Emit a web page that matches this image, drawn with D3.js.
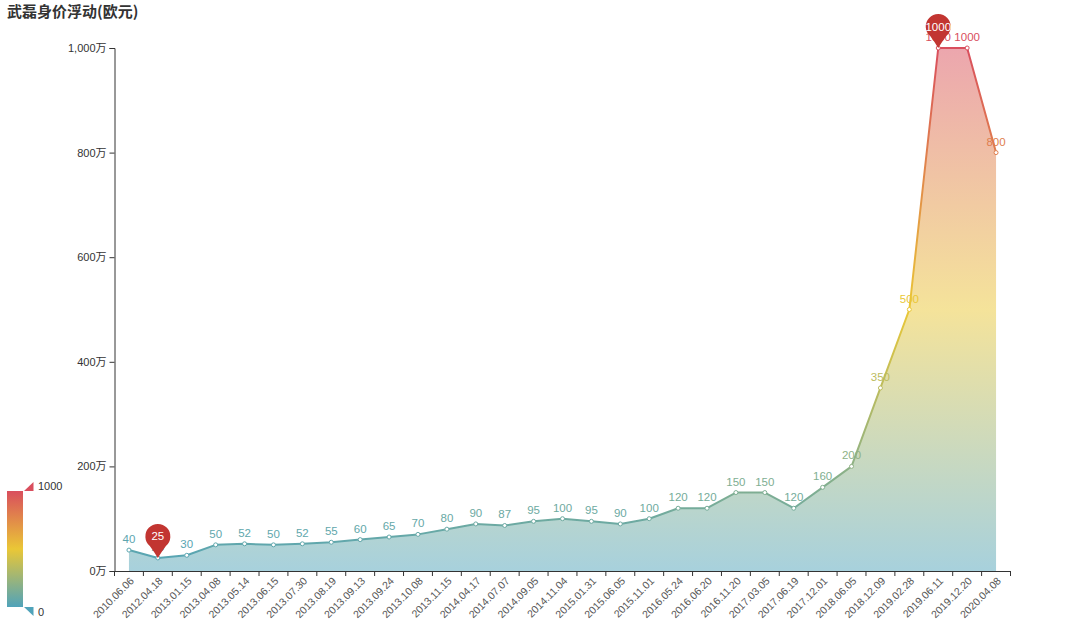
<!DOCTYPE html>
<html>
<head>
<meta charset="utf-8">
<script src="https://cdn.jsdelivr.net/npm/d3@7/dist/d3.min.js"></script>
<style>
html,body{margin:0;padding:0;background:#fff;}
svg{display:block;font-family:"Liberation Sans","Noto Sans CJK SC",sans-serif;}
</style>
</head>
<body>
<svg id="chart" width="1080" height="624"></svg>
<script>
const categories = ["2010.06.06","2012.04.18","2013.01.15","2013.04.08","2013.05.14","2013.06.15","2013.07.30","2013.08.19","2013.09.13","2013.09.24","2013.10.08","2013.11.15","2014.04.17","2014.07.07","2014.09.05","2014.11.04","2015.01.31","2015.06.05","2015.11.01","2016.05.24","2016.06.20","2016.11.20","2017.03.05","2017.06.19","2017.12.01","2018.06.05","2018.12.09","2019.02.28","2019.06.11","2019.12.20","2020.04.08"];
const values = [40,25,30,50,52,50,52,55,60,65,70,80,90,87,95,100,95,90,100,120,120,150,150,120,160,200,350,500,1000,1000,800];
const yTicks = [0,200,400,600,800,1000];
const mapColors = ["#50a3ba","#eac736","#d94e5d"];
const mapRange = [0,1000];
const title = "武磊身价浮动(欧元)";

(function(){
const svg = d3.select("#chart");
const gLeft = 114.5, gRight = 1010.5, gTop = 48, gBottom = 571;

const x = d3.scaleBand().domain(categories).range([gLeft, gRight]).padding(0);
const y = d3.scaleLinear().domain([0,1000]).range([gBottom, gTop]);
const color = d3.scaleLinear().domain([mapRange[0], (mapRange[0]+mapRange[1])/2, mapRange[1]]).range(mapColors).interpolate(d3.interpolateRgb);
const cx = c => x(c) + x.bandwidth()/2;

const defs = svg.append("defs");
const grad = defs.append("linearGradient").attr("id","vgrad")
  .attr("gradientUnits","userSpaceOnUse").attr("x1",0).attr("x2",0)
  .attr("y1", y(mapRange[0])).attr("y2", y(mapRange[1]));
grad.selectAll("stop").data(mapColors).join("stop")
  .attr("offset",(d,i)=>i/(mapColors.length-1)).attr("stop-color",d=>d);
const grad2 = defs.append("linearGradient").attr("id","vmgrad")
  .attr("x1",0).attr("x2",0).attr("y1",1).attr("y2",0);
grad2.selectAll("stop").data(mapColors).join("stop")
  .attr("offset",(d,i)=>i/(mapColors.length-1)).attr("stop-color",d=>d);

// title
svg.append("text").attr("x",7).attr("y",17).attr("font-size",15).attr("font-weight","bold")
  .attr("fill","#333").attr("font-family","'Noto Sans CJK SC',sans-serif").text(title);

const data = categories.map((c,i)=>({c, v:values[i]}));

// area
svg.append("path").datum(data)
  .attr("d", d3.area().x(d=>cx(d.c)).y0(y(0)).y1(d=>y(d.v)))
  .attr("fill","url(#vgrad)").attr("fill-opacity",0.5);
// line
svg.append("path").datum(data)
  .attr("d", d3.line().x(d=>cx(d.c)).y(d=>y(d.v)))
  .attr("fill","none").attr("stroke","url(#vgrad)").attr("stroke-width",2).attr("stroke-linejoin","round");

// axes
const yAxis = d3.axisLeft(y).tickValues(yTicks).tickSize(5).tickPadding(3)
  .tickFormat(v => d3.format(",")(v) + "万");
const gy = svg.append("g").attr("transform",`translate(${gLeft},0)`).call(yAxis);
gy.select(".domain").attr("stroke","#333");
gy.selectAll(".tick line").attr("stroke","#333");
gy.selectAll(".tick text").attr("fill","#333").attr("font-size",11)
  .attr("font-family","'Liberation Sans','Noto Sans CJK SC',sans-serif");

const xAxis = d3.axisBottom(x).tickSize(0).tickPadding(0);
const gx = svg.append("g").attr("transform",`translate(0,${gBottom})`).call(xAxis);
gx.select(".domain").attr("stroke","#333");
gx.selectAll(".tick text")
  .attr("text-anchor","end").attr("font-size",10.5).attr("fill","#555")
  .attr("transform","translate(3,8) rotate(-45)").attr("dy","0.35em").attr("y",0);
const bounds = categories.map(c=>x(c)).concat([x(categories[categories.length-1])+x.bandwidth()]);
gx.selectAll("line.bt").data(bounds).join("line").attr("class","bt")
  .attr("x1",d=>d).attr("x2",d=>d).attr("y1",0).attr("y2",5).attr("stroke","#333");

// symbols
svg.selectAll("circle.pt").data(data).join("circle").attr("class","pt")
  .attr("cx",d=>cx(d.c)).attr("cy",d=>y(d.v)).attr("r",2)
  .attr("fill","#fff").attr("stroke",d=>color(d.v)).attr("stroke-width",1);

// labels
svg.selectAll("text.lbl").data(data).join("text").attr("class","lbl")
  .attr("x",d=>cx(d.c)).attr("y",d=>y(d.v)-7).attr("text-anchor","middle")
  .attr("font-size",11.5).attr("fill",d=>color(d.v)).text(d=>d.v);

// mark points (min & max)
const minI = values.indexOf(d3.min(values));
const maxI = values.indexOf(d3.max(values));
function pinPath(r, h){
  const cy = -h + r;
  const a = 40*Math.PI/180;
  const lx = -r*Math.sin(a), ly = cy + r*Math.cos(a);
  return `M${lx},${ly} A${r},${r} 0 1 1 ${-lx},${ly} Q${r*0.25},${cy+r*1.3} 0,0 Q${-r*0.25},${cy+r*1.3} ${lx},${ly} Z`;
}
[minI, maxI].forEach(i=>{
  const g = svg.append("g").attr("transform",`translate(${cx(categories[i])},${y(values[i])})`);
  g.append("path").attr("d",pinPath(12.5,34)).attr("fill","#c23531");
  g.append("text").attr("x",0).attr("y",-21.5).attr("dy","0.35em").attr("text-anchor","middle")
    .attr("font-size",11.5).attr("fill","#fff").text(values[i]);
});

// visual map
const vm = svg.append("g");
vm.append("rect").attr("x",7).attr("y",491).attr("width",16).attr("height",116).attr("fill","url(#vmgrad)");
vm.append("path").attr("d","M24,491 L33.5,482 L33.5,491 Z").attr("fill",color(1000));
vm.append("path").attr("d","M24,607 L33.5,607 L33.5,616 Z").attr("fill",color(0));
vm.append("text").attr("x",38).attr("y",486).attr("dy","0.35em").attr("font-size",11).attr("fill","#333").text(mapRange[1]);
vm.append("text").attr("x",38).attr("y",612).attr("dy","0.35em").attr("font-size",11).attr("fill","#333").text(mapRange[0]);
})();
</script>
</body>
</html>
